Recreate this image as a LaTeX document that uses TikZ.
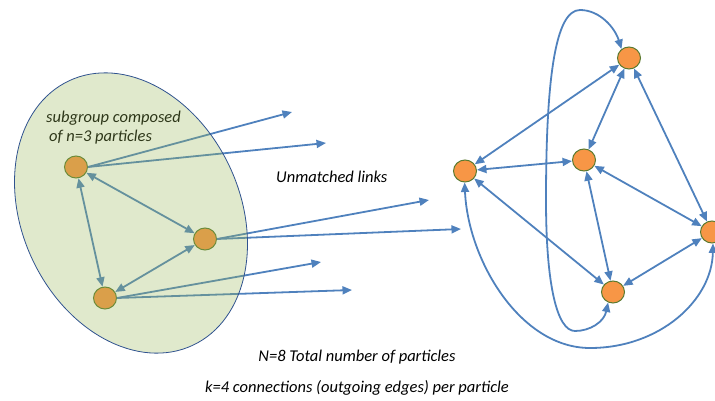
\documentclass[tikz,border=0pt]{standalone}
\usepackage{fontspec}
\setmainfont{Carlito}
\usetikzlibrary{arrows.meta,shapes.geometric}
\definecolor{linkblue}{HTML}{4F81BD}
\definecolor{porange}{HTML}{F79646}
\definecolor{nodeborder}{HTML}{5A7A30}
\definecolor{groupfill}{HTML}{98B655}
\definecolor{groupborder}{HTML}{2F528F}
\begin{document}
\begin{tikzpicture}[x=1pt,y=-1pt,
  pnode/.style={ellipse, minimum width=23pt, minimum height=22pt, inner sep=0pt, draw=nodeborder, line width=1pt, fill=porange},
  link/.style={draw=linkblue, line width=1.8pt, {Triangle[length=9.5pt,width=8pt]}-{Triangle[length=9.5pt,width=8pt]}},
  ulink/.style={draw=linkblue, line width=1.8pt, -{Triangle[length=9.5pt,width=8pt]}},
  lbl/.style={font=\fontsize{16.5}{19}\selectfont\itshape, inner sep=0pt, text=black}]
\useasboundingbox (0,0) rectangle (715,401);

% ---------- left subgroup ----------
\node[pnode] (A) at (76,167) {};
\node[pnode] (B) at (205,239) {};
\node[pnode] (C) at (105,298) {};

\coordinate (u1) at (292,112);
\coordinate (u2) at (326,143);
\coordinate (u3) at (429,200);
\coordinate (u4) at (461,229);
\coordinate (u5) at (321,262);
\coordinate (u6) at (352,290);

\draw[link] (A) -- (B);
\draw[link] (A) -- (C);
\draw[link] (B) -- (C);

\draw[ulink] (A.east) -- (u1);
\draw[ulink] (A.east) -- (u2);
\draw[ulink] (B.east) -- (u3);
\draw[ulink] (B.east) -- (u4);
\draw[ulink] (C.east) -- (u5);
\draw[ulink] (C.east) -- (u6);

\node[lbl, anchor=west] (g1) at (46,118) {subgroup composed};
\node[lbl, anchor=west] (g2) at (49,137) {of n=3 particles};

\path[rotate around={-65:(131,213)}, fill=groupfill, fill opacity=0.3, draw=groupborder, line width=0.8pt]
  (131,213) ellipse [x radius=146pt, y radius=109pt];

% ---------- right graph ----------
\node[pnode] (R1) at (629,58) {};
\node[pnode] (R2) at (465,171) {};
\node[pnode] (R3) at (584,160) {};
\node[pnode] (R4) at (712,232) {};
\node[pnode] (R5) at (613,292) {};

\draw[link] (R1) -- (R2);
\draw[link] (R1) -- (R3);
\draw[link] (R1) -- (R4);
\draw[link] (R2) -- (R3);
\draw[link] (R2) -- (R5);
\draw[link] (R3) -- (R4);
\draw[link] (R3) -- (R5);
\draw[link] (R4) -- (R5);

\draw[link] (R5.245) .. controls (604,322) and (590,331) .. (575,331)
  .. controls (557,331) and (546,285) .. (546,200)
  .. controls (546,80) and (555,10) .. (580,10)
  .. controls (600,10) and (615,28) .. (R1.130);

\draw[link] (R2.268) .. controls (468,260) and (520,348) .. (590,348)
  .. controls (660,348) and (712,300) .. (R4.275);

% ---------- labels ----------
\node[lbl, anchor=west] (um) at (276,177) {Unmatched links};
\node[lbl] (tN) at (357,357) {N=8 Total number of particles};
\node[lbl] (tk) at (357,388) {k=4 connections (outgoing edges) per particle};
\end{tikzpicture}
\end{document}
